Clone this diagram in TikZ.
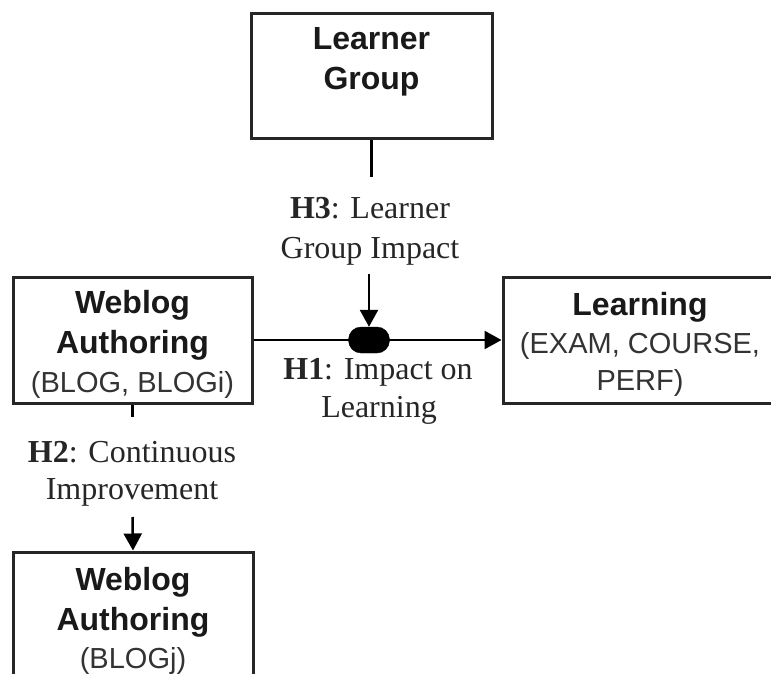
\documentclass[tikz,border=0pt]{standalone}
\usepackage{fontspec}
\setmainfont{Liberation Serif}
\setsansfont{Liberation Sans}
\usetikzlibrary{arrows.meta}
\begin{document}
\begin{tikzpicture}[x=1pt,y=-1pt,
  box/.style={draw=black!85, line width=3pt, rectangle, inner sep=0pt},
  bt/.style={font=\sffamily\bfseries\fontsize{32}{40}\selectfont, inner sep=0pt, anchor=base, text=black!90},
  rt/.style={font=\sffamily\fontsize{29}{38}\selectfont, inner sep=0pt, anchor=base, text=black!80},
  lt/.style={font=\fontsize{32}{39}\selectfont, inner sep=0pt, anchor=base, text=black!85},
  conn/.style={line width=2.5pt, draw=black},
  arr/.style={conn, -{Triangle[length=17pt,width=18pt]}},
]
\useasboundingbox (0,0) rectangle (771,674);
\clip (0,0) rectangle (771,674);

% boxes
\node[box, minimum width=241pt, minimum height=125pt] (lg) at (371.5,76.5) {};
\node[box, minimum width=239pt, minimum height=126pt] (wa) at (132.5,340) {};
\node[box, minimum width=275pt, minimum height=126pt] (learn) at (640.5,340) {};
\node[box, minimum width=240pt, minimum height=148pt] (wb) at (133,626) {};

% box texts
\node[bt] (lg1) at (371.5,50) {Learner};
\node[bt] (lg2) at (371.5,90) {Group};

\node[bt] (wa1) at (132.5,313) {Weblog};
\node[bt] (wa2) at (132.5,353) {Authoring};
\node[rt] (wa3) at (132.5,392) {(BLOG, BLOGi)};

\node[bt] (le1) at (640,315) {Learning};
\node[rt] (le2) at (640,353) {(EXAM, COURSE,};
\node[rt] (le3) at (640,390) {PERF)};

\node[bt] (wb1) at (133,590) {Weblog};
\node[bt] (wb2) at (133,630) {Authoring};
\node[rt] (wb3) at (133,668) {(BLOGj)};

% moderator dot
\node[fill=black, draw=black, rectangle, rounded corners=12.5pt, minimum width=41pt, minimum height=26pt, inner sep=0pt] (dot) at (369,340) {};

% labels
\node[lt] (h3a) at (370,218) {\textbf{H3}: Learner};
\node[lt] (h3b) at (370,258) {Group Impact};
\node[lt] (h1a) at (378,379) {\textbf{H1}: Impact on};
\node[lt] (h1b) at (379,417) {Learning};
\node[lt] (h2a) at (132,462) {\textbf{H2}: Continuous};
\node[lt] (h2b) at (132,499) {Improvement};

% connector coordinates
\coordinate (lgend) at (371.5,177);
\coordinate (h3start) at (369,274);
\coordinate (waend) at (132.5,417);
\coordinate (h2start) at (132.5,517);

% connectors
\draw[conn] (lg.south) -- (lgend);
\draw[arr] (h3start) -- (dot.north);
\draw[arr] (wa.east) -- (learn.west);
\draw[conn] (wa.south) -- (waend);
\draw[arr] (h2start) -- (wb.north);
\end{tikzpicture}
\end{document}
